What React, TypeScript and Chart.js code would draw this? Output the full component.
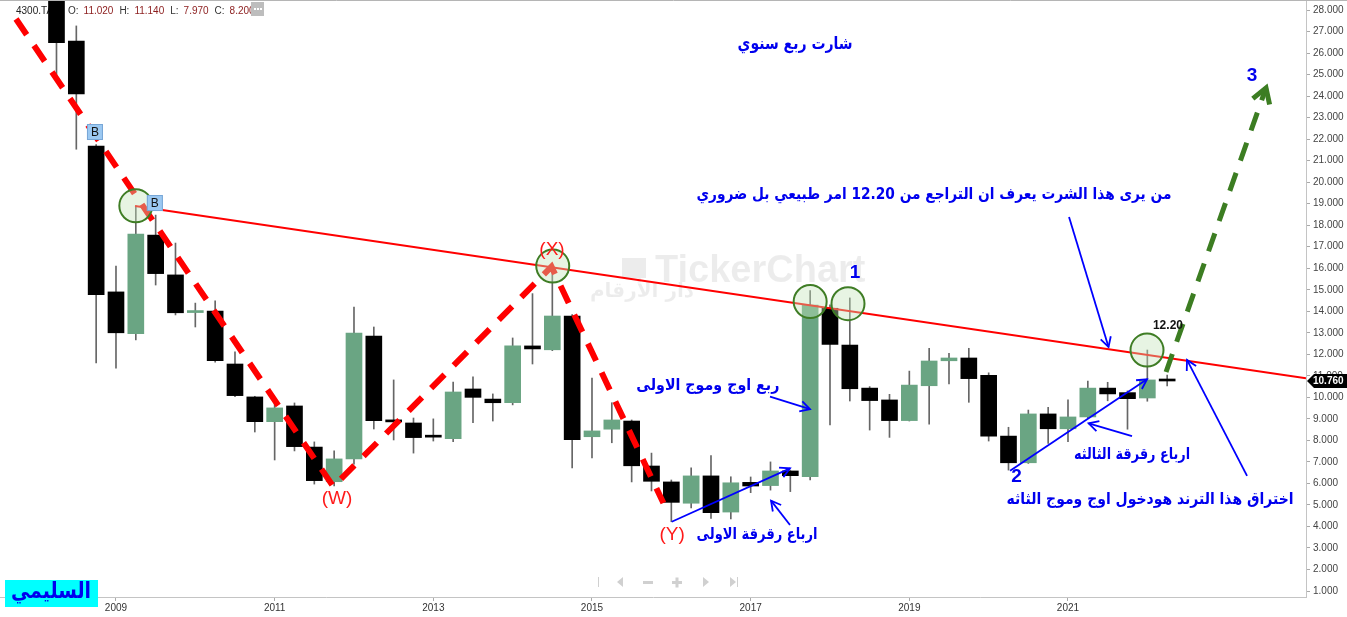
import { useEffect, useRef } from 'react';
import { Chart, registerables } from 'chart.js';
Chart.register(...registerables);

// ---------- data ----------
const quarters = [
  '2008Q2','2008Q3','2008Q4',
  '2009Q1','2009Q2','2009Q3','2009Q4',
  '2010Q1','2010Q2','2010Q3','2010Q4',
  '2011Q1','2011Q2','2011Q3','2011Q4',
  '2012Q1','2012Q2','2012Q3','2012Q4',
  '2013Q1','2013Q2','2013Q3','2013Q4',
  '2014Q1','2014Q2','2014Q3','2014Q4',
  '2015Q1','2015Q2','2015Q3','2015Q4',
  '2016Q1','2016Q2','2016Q3','2016Q4',
  '2017Q1','2017Q2','2017Q3','2017Q4',
  '2018Q1','2018Q2','2018Q3','2018Q4',
  '2019Q1','2019Q2','2019Q3','2019Q4',
  '2020Q1','2020Q2','2020Q3','2020Q4',
  '2021Q1','2021Q2','2021Q3','2021Q4',
  '2022Q1','2022Q2',
];
const opens = [
  29.5, 26.56, 21.68,
  14.90, 12.96, 17.54, 15.69,
  13.94, 14.01, 11.55, 10.02,
  8.87, 9.60, 7.69, 6.08,
  7.14, 12.85, 8.92, 8.81,
  8.20, 8.08, 10.39, 9.92,
  9.75, 12.39, 12.21, 13.78,
  8.17, 8.52, 8.90, 6.81,
  6.07, 5.08, 6.35, 4.67,
  6.05, 5.90, 6.58, 6.31,
  14.14, 12.43, 10.43, 9.88,
  8.92, 10.54, 11.70, 11.83,
  11.02, 8.20, 6.96, 9.23,
  8.54, 9.09, 10.43, 10.22,
  9.97, 10.85,
];
const highs = [
  30.5, 27.26, 21.75,
  16.10, 18.89, 18.47, 17.17,
  14.38, 14.49, 12.11, 10.05,
  9.97, 9.74, 7.93, 7.51,
  14.20, 13.27, 10.81, 9.04,
  9.00, 10.71, 10.95, 10.16,
  12.76, 14.82, 16.10, 13.85,
  10.90, 9.75, 8.95, 7.41,
  6.16, 6.72, 7.29, 6.31,
  6.30, 7.00, 6.60, 14.96,
  14.30, 14.62, 10.50, 10.14,
  11.22, 12.28, 12.05, 12.28,
  11.14, 8.61, 9.41, 9.54,
  9.88, 10.76, 10.70, 10.30,
  12.20, 11.04,
];
const lows = [
  24.98, 21.53, 11.60,
  11.36, 12.67, 15.22, 13.83,
  13.27, 11.64, 10.03, 8.39,
  7.09, 7.51, 5.97, 5.88,
  6.90, 8.53, 8.02, 7.41,
  7.97, 7.94, 8.82, 8.90,
  9.65, 11.55, 12.17, 6.72,
  7.18, 7.89, 6.07, 5.65,
  4.22, 4.86, 4.38, 4.35,
  5.57, 5.69, 5.62, 6.16,
  8.72, 9.83, 8.48, 8.14,
  8.90, 8.75, 10.62, 9.77,
  7.97, 6.62, 6.93, 7.86,
  7.94, 9.05, 9.84, 8.52,
  9.82, 10.53,
];
const closes = [
  26.48, 24.10, 14.77,
  13.00, 17.59, 15.75, 13.93,
  14.00, 11.70, 10.08, 8.87,
  9.51, 7.71, 6.13, 7.14,
  12.99, 8.92, 8.86, 8.13,
  8.15, 10.25, 10.00, 9.75,
  12.39, 12.25, 13.78, 8.03,
  8.44, 8.95, 6.82, 6.10,
  5.12, 6.35, 4.64, 6.03,
  5.88, 6.58, 6.36, 14.29,
  12.46, 10.40, 9.85, 8.92,
  10.57, 11.69, 11.83, 10.87,
  8.20, 6.96, 9.23, 8.54,
  9.09, 10.43, 10.16, 9.94,
  10.81, 10.76,
];
const lastPrice = 10.76;
const headerSymbol = '4300.TA';
const headerFields = ['O:', 'H:', 'L:', 'C:'];
const headerValues = ['11.020', '11.140', '7.970', '8.200'];

const yTickValues = [1,2,3,4,5,6,7,8,9,10,11,12,13,14,15,16,17,18,19,20,21,22,23,24,25,26,27,28];
const xTickYears = [2009, 2011, 2013, 2015, 2017, 2019, 2021];

// drawings (data coordinates: year, price)
const trendX = [2009.24, 2024.0];
const trendY = [18.89, 10.89];
const wxyX = [2007.74, 2011.74, 2014.49, 2015.90];
const wxyY = [27.58, 5.85, 16.07, 5.09];
const wave3X = [2022.236, 2023.496];
const wave3Y = [11.18, 24.38];
const circleX = [2009.25, 2014.505, 2017.75, 2018.227, 2021.996];
const circleY = [18.90, 16.10, 14.45, 14.35, 12.20];
const arrowFromX = [2016.005, 2017.244, 2017.496, 2020.27, 2021.807, 2021.013, 2023.257];
const arrowFromY = [4.22, 10.03, 4.07, 6.59, 8.20, 18.38, 6.35];
const arrowToX = [2017.496, 2017.748, 2017.257, 2021.996, 2021.26, 2021.511, 2022.50];
const arrowToY = [6.70, 9.45, 5.20, 10.84, 8.79, 12.34, 11.74];

const noteTexts = [
  'شارت ربع سنوي',
  'من يرى هذا الشرت يعرف ان التراجع من 12.20 امر طبيعي بل ضروري',
  'ربع اوج وموج الاولى',
  'ارباع رقرقة الاولى',
  'ارباع رقرقة الثالثه',
  'اختراق هذا الترند هودخول اوج وموج الثاثه',
];
const noteX = [2017.56, 2019.31, 2016.46, 2017.08, 2021.807, 2022.034];
const noteY = [26.40, 19.40, 10.53, 3.60, 7.32, 5.23];
const waveLabels = ['(W)', '(X)', '(Y)'];
const waveLabelX = [2011.786, 2014.496, 2016.009];
const waveLabelY = [5.28, 16.85, 3.60];
const countLabels = ['1', '2', '3'];
const countX = [2018.315, 2020.35, 2023.32];
const countY = [15.78, 6.30, 24.93];
const peakLabel = '12.20';
const peakLabelX = 2022.26;
const peakLabelY = 13.32;
const signalLabels = ['B', 'B'];
const signalX = [2008.735, 2009.49];
const signalY = [22.33, 19.03];
const authorName = 'السليمي';

// ---------- styles ----------
const GREEN = '#6aa583';
const BLUE = '#0000ee';
const noteWidths = [115, 475, 143, 121, 116, 287];
const noteSizes = [17, 16, 16, 16, 16, 16];
const AR_FONT = '"DejaVu Sans", sans-serif';
const LAT_FONT = '"Liberation Sans", Arial, sans-serif';

function qx(q: string) {
  return parseInt(q.slice(0, 4), 10) + (parseInt(q.slice(5), 10) - 1) / 4;
}

function drawFit(ctx: CanvasRenderingContext2D, text: string, cx: number, cy: number, w: number, size: number, weight: string, family: string, color: string) {
  ctx.save();
  ctx.font = `${weight} ${size}px ${family}`;
  ctx.direction = 'rtl';
  ctx.textAlign = 'center';
  ctx.textBaseline = 'middle';
  const m = ctx.measureText(text).width;
  ctx.translate(cx, cy);
  ctx.scale(w / m, 1);
  ctx.fillStyle = color;
  ctx.fillText(text, 0, 0);
  ctx.restore();
}

const chromePlugin = {
  id: 'chrome',
  beforeDatasetsDraw(chart: any) {
    const ctx: CanvasRenderingContext2D = chart.ctx;
    // watermark
    ctx.save();
    ctx.fillStyle = 'rgba(0,0,0,0.075)';
    ctx.font = `bold 38px ${LAT_FONT}`;
    ctx.textBaseline = 'middle';
    ctx.fillText('TickerChart', 655, 272);
    ctx.fillRect(622, 258, 24, 20);
    ctx.font = `bold 20px ${AR_FONT}`;
    ctx.direction = 'rtl';
    ctx.textAlign = 'center';
    ctx.fillText('دار الأرقام', 642, 292);
    ctx.restore();
    // header
    ctx.save();
    ctx.font = `10px ${LAT_FONT}`;
    ctx.textBaseline = 'middle';
    ctx.fillStyle = '#222';
    ctx.fillText(headerSymbol, 16, 11);
    let x = 68;
    for (let i = 0; i < headerFields.length; i++) {
      ctx.fillStyle = '#333';
      ctx.fillText(headerFields[i], x, 11);
      x += ctx.measureText(headerFields[i]).width + 5;
      ctx.fillStyle = '#8b1c1c';
      ctx.fillText(headerValues[i], x, 11);
      x += ctx.measureText(headerValues[i]).width + 6;
    }
    ctx.fillStyle = '#bdbdbd';
    ctx.fillRect(251, 2, 13, 14);
    ctx.fillStyle = '#fff';
    for (let k = 0; k < 3; k++) ctx.fillRect(254 + k * 3, 8, 2, 2);
    ctx.restore();
  },
  afterDatasetsDraw(chart: any) {
    const ctx: CanvasRenderingContext2D = chart.ctx;
    const xs = chart.scales.x;
    const ys = chart.scales.y;
    const area = chart.chartArea;
    ctx.save();
    ctx.beginPath();
    ctx.rect(area.left, area.top, area.right - area.left, area.bottom - area.top);
    ctx.clip();
    // arrowheads
    chart.data.datasets.forEach((ds: any, i: number) => {
      if (!ds.arrowHead) return;
      const pts = chart.getDatasetMeta(i).data;
      const p0 = pts[pts.length - 2];
      const p1 = pts[pts.length - 1];
      const ang = Math.atan2(p1.y - p0.y, p1.x - p0.x);
      const L = ds.arrowHead.len;
      const a = ds.arrowHead.angle;
      ctx.beginPath();
      ctx.moveTo(p1.x - L * Math.cos(ang - a), p1.y - L * Math.sin(ang - a));
      ctx.lineTo(p1.x, p1.y);
      ctx.lineTo(p1.x - L * Math.cos(ang + a), p1.y - L * Math.sin(ang + a));
      ctx.strokeStyle = ds.borderColor;
      ctx.lineWidth = ds.arrowHead.width;
      ctx.lineJoin = 'miter';
      ctx.stroke();
    });
    // B signals
    for (let i = 0; i < signalLabels.length; i++) {
      const cx = xs.getPixelForValue(signalX[i]);
      const cy = ys.getPixelForValue(signalY[i]);
      ctx.fillStyle = '#9cc9f2';
      ctx.fillRect(cx - 8, cy - 8, 16, 16);
      ctx.strokeStyle = '#78a6d6';
      ctx.lineWidth = 1;
      ctx.strokeRect(cx - 7.5, cy - 7.5, 15, 15);
      ctx.fillStyle = '#111';
      ctx.font = `12px ${LAT_FONT}`;
      ctx.textAlign = 'center';
      ctx.textBaseline = 'middle';
      ctx.fillText(signalLabels[i], cx, cy + 1);
    }
    // Arabic notes
    for (let i = 0; i < noteTexts.length; i++) {
      drawFit(ctx, noteTexts[i], xs.getPixelForValue(noteX[i]), ys.getPixelForValue(noteY[i]), noteWidths[i], noteSizes[i], 'bold', AR_FONT, BLUE);
    }
    // wave labels
    ctx.textAlign = 'center';
    ctx.textBaseline = 'middle';
    ctx.direction = 'ltr';
    ctx.font = `19px ${LAT_FONT}`;
    ctx.fillStyle = '#ff1a1a';
    for (let i = 0; i < waveLabels.length; i++) {
      ctx.fillText(waveLabels[i], xs.getPixelForValue(waveLabelX[i]), ys.getPixelForValue(waveLabelY[i]));
    }
    ctx.font = `bold 19px ${LAT_FONT}`;
    ctx.fillStyle = BLUE;
    for (let i = 0; i < countLabels.length; i++) {
      ctx.fillText(countLabels[i], xs.getPixelForValue(countX[i]), ys.getPixelForValue(countY[i]));
    }
    ctx.font = `bold 12px ${LAT_FONT}`;
    ctx.fillStyle = '#111';
    ctx.fillText(peakLabel, xs.getPixelForValue(peakLabelX), ys.getPixelForValue(peakLabelY));
    ctx.restore();
  },
  afterDraw(chart: any) {
    const ctx: CanvasRenderingContext2D = chart.ctx;
    const ys = chart.scales.y;
    const area = chart.chartArea;
    ctx.save();
    // top border
    ctx.strokeStyle = '#b5b5b5';
    ctx.lineWidth = 1;
    ctx.beginPath();
    ctx.moveTo(0, 0.5);
    ctx.lineTo(chart.width, 0.5);
    ctx.stroke();
    // last price tag
    const py = ys.getPixelForValue(lastPrice);
    const x0 = area.right + 1;
    ctx.fillStyle = '#000';
    ctx.beginPath();
    ctx.moveTo(x0, py);
    ctx.lineTo(x0 + 7, py - 7);
    ctx.lineTo(chart.width, py - 7);
    ctx.lineTo(chart.width, py + 7);
    ctx.lineTo(x0 + 7, py + 7);
    ctx.closePath();
    ctx.fill();
    ctx.fillStyle = '#fff';
    ctx.font = `bold 10px ${LAT_FONT}`;
    ctx.textBaseline = 'middle';
    ctx.textAlign = 'left';
    ctx.fillText(lastPrice.toFixed(3), x0 + 6, py + 0.5);
    // author box
    ctx.fillStyle = '#00ffff';
    ctx.fillRect(5, 580, 93, 27);
    drawFit(ctx, authorName, 51, 592, 80, 22, 'bold', AR_FONT, BLUE);
    // navigation icons
    ctx.fillStyle = '#d0d0d0';
    const cy = 582;
    ctx.fillRect(598, cy - 5, 1, 10);
    const tri = (x: number, dir: number) => {
      ctx.beginPath();
      ctx.moveTo(x + (dir > 0 ? 0 : 6), cy - 5);
      ctx.lineTo(x + (dir > 0 ? 6 : 0), cy);
      ctx.lineTo(x + (dir > 0 ? 0 : 6), cy + 5);
      ctx.closePath();
      ctx.fill();
    };
    tri(617, -1);
    ctx.fillRect(643, cy - 1, 10, 3);
    ctx.fillRect(672, cy - 1, 10, 3);
    ctx.fillRect(675.5, cy - 4.5, 3, 10);
    tri(703, 1);
    tri(730, 1);
    ctx.fillRect(737, cy - 5, 1, 10);
    ctx.restore();
  },
};

export default function App() {
  const ref = useRef<HTMLCanvasElement>(null);
  useEffect(() => {
    const canvas = ref.current!;
    const xs = quarters.map(qx);
    const wickData = xs.map((x, i) => ({ x, y: [lows[i], highs[i]] }));
    const bodyData = xs.map((x, i) => ({ x, y: [opens[i], closes[i]] }));
    const bodyColors = xs.map((_, i) => (closes[i] >= opens[i] ? GREEN : '#000000'));
    const arrowSets = arrowFromX.map((_, i) => ({
      type: 'line' as const,
      data: [
        { x: arrowFromX[i], y: arrowFromY[i] },
        { x: arrowToX[i], y: arrowToY[i] },
      ],
      borderColor: '#0000ff',
      borderWidth: 1.8,
      pointRadius: 0,
      tension: 0,
      fill: false,
      order: 6,
      arrowHead: { len: 11, angle: 0.5, width: 1.8 },
    }));
    const chart = new Chart(canvas, {
      type: 'bar',
      data: {
        datasets: [
          {
            type: 'bar',
            data: wickData as any,
            backgroundColor: '#666666',
            barThickness: 1,
            grouped: false,
            borderWidth: 0,
            order: 10,
          },
          {
            type: 'bar',
            data: bodyData as any,
            backgroundColor: bodyColors,
            barThickness: 16,
            grouped: false,
            borderWidth: 0,
            minBarLength: 2,
            order: 9,
          },
          {
            type: 'line',
            data: trendX.map((x, i) => ({ x, y: trendY[i] })),
            borderColor: '#ff0000',
            borderWidth: 2,
            pointRadius: 0,
            tension: 0,
            fill: false,
            order: 8,
          },
          {
            type: 'line',
            data: wxyX.map((x, i) => ({ x, y: wxyY[i] })),
            borderColor: '#ff0000',
            borderWidth: 6,
            borderDash: [19, 13],
            borderCapStyle: 'butt',
            pointRadius: 0,
            tension: 0,
            fill: false,
            order: 7,
          },
          ...arrowSets,
          {
            type: 'line',
            data: wave3X.map((x, i) => ({ x, y: wave3Y[i] })),
            borderColor: '#3c7d22',
            borderWidth: 5,
            borderDash: [19, 13],
            borderCapStyle: 'butt',
            pointRadius: 0,
            tension: 0,
            fill: false,
            order: 5,
            arrowHead: { len: 17, angle: 0.55, width: 5 },
          } as any,
          {
            type: 'line',
            data: circleX.map((x, i) => ({ x, y: circleY[i] })),
            showLine: false,
            pointRadius: 16.5,
            pointBackgroundColor: 'rgba(196,228,184,0.4)',
            pointBorderColor: '#3f7d25',
            pointBorderWidth: 2,
            order: 4,
          },
        ] as any,
      },
      options: {
        responsive: false,
        animation: false,
        devicePixelRatio: 1,
        events: [],
        layout: { padding: 0, autoPadding: false },
        plugins: { legend: { display: false }, tooltip: { enabled: false } },
        scales: {
          x: {
            type: 'linear',
            min: 2007.538,
            max: 2024.0,
            offset: false,
            afterBuildTicks: (s: any) => {
              s.ticks = xTickYears.map((value) => ({ value }));
            },
            afterFit: (s: any) => {
              s.height = 20;
              s.paddingLeft = 0;
              s.paddingRight = 0;
            },
            ticks: {
              callback: (v: any) => String(v),
              color: '#333',
              font: { family: 'Liberation Sans', size: 10 },
              padding: 1,
              maxRotation: 0,
              autoSkip: false,
            },
            grid: { drawOnChartArea: false, tickLength: 4, color: '#aaa', offset: false },
            border: { color: '#c4c4c4' },
          },
          y: {
            type: 'linear',
            position: 'right',
            min: 0.7227,
            max: 28.4647,
            afterBuildTicks: (s: any) => {
              s.ticks = yTickValues.map((value) => ({ value }));
            },
            afterFit: (s: any) => {
              s.width = 41;
              s.paddingTop = 0;
              s.paddingBottom = 0;
            },
            ticks: {
              callback: (v: any) => Number(v).toFixed(3),
              color: '#444',
              font: { family: 'Liberation Sans', size: 10 },
              padding: 3,
              autoSkip: false,
            },
            grid: { drawOnChartArea: false, tickLength: 4, color: '#aaa' },
            border: { color: '#c4c4c4' },
          },
        },
      } as any,
      plugins: [chromePlugin],
    });
    return () => chart.destroy();
  }, []);
  return (
    <canvas
      ref={ref}
      width={1347}
      height={617}
      style={{ position: 'fixed', left: 0, top: 0, width: '1347px', height: '617px', background: '#fff' }}
    />
  );
}
